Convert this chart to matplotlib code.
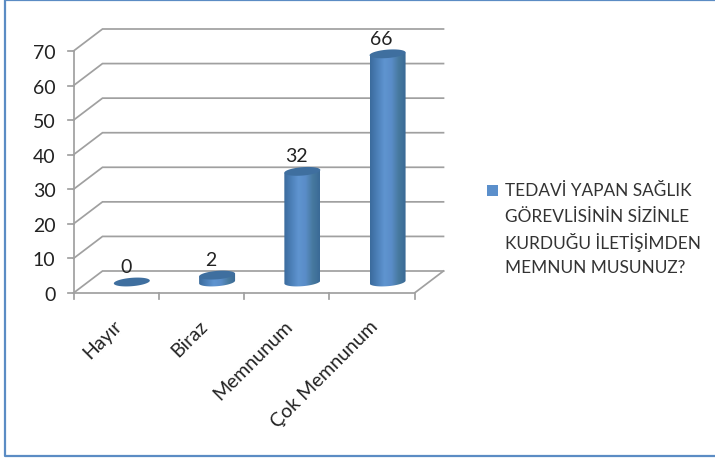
import matplotlib
matplotlib.use('Agg')
import matplotlib.pyplot as plt
import numpy as np
from matplotlib.colors import LinearSegmentedColormap
from matplotlib.patches import PathPatch, Polygon, Rectangle
from matplotlib.path import Path

categories = ['Hayır', 'Biraz', 'Memnunum', 'Çok Memnunum']
values = [0, 2, 32, 66]
y_ticks = [0, 10, 20, 30, 40, 50, 60, 70]
legend_lines = ['TEDAVİ YAPAN SAĞLIK', 'GÖREVLİSİNİN SİZİNLE',
                'KURDUĞU İLETİŞİMDEN', 'MEMNUN MUSUNUZ?']

W, H = 715, 460
plt.rcParams['font.family'] = ['Lato', 'DejaVu Sans']

fig = plt.figure(figsize=(W / 100, H / 100), dpi=100)

# frame around the chart, open on the right
bg = fig.add_axes([0, 0, 1, 1])
bg.set_xlim(0, W)
bg.set_ylim(H, 0)
bg.axis('off')
bg.plot([W, 5, 5, W], [0.7, 0.7, 457.3, 457.3], color='#5b8cc4', lw=1.6)

# plot axes cover the front plane of the floor
left, right, y0, y70 = 73.5, 414.5, 294, 52
ax = fig.add_axes([left / W, 1 - y0 / H, (right - left) / W, (y0 - y70) / H])
ax.set_xlim(0, 4)
ax.set_ylim(0, 70)
ax.axis('off')

px_x = 4 / (right - left)
px_y = 70 / (y0 - y70)
depth_x = 29 * px_x
depth_y = 22 * px_y
grid = '#a0a0a0'

# walls and gridlines
for v in y_ticks:
    ax.plot([0, depth_x, 4 + depth_x], [v, v + depth_y, v + depth_y],
            color=grid, lw=1.25, clip_on=False, solid_joinstyle='miter', zorder=1)
    ax.plot([-6 * px_x, 0], [v, v], color=grid, lw=1.25, clip_on=False, zorder=1)
    ax.text(-18 * px_x, v - 1.5 * px_y, str(v), ha='right', va='center', fontsize=14,
            color='#222222', clip_on=False)
ax.plot([0, 0], [0, 70], color=grid, lw=1.25, clip_on=False, zorder=1)
ax.plot([0, 4, 4 + depth_x], [0, 0, depth_y], color=grid, lw=1.25, clip_on=False, zorder=1)
for i in range(5):
    ax.plot([i, i], [0, -6 * px_y], color=grid, lw=1.25, clip_on=False, zorder=1)

shade = LinearSegmentedColormap.from_list(
    'cyl', ['#3b6b9c', '#4c80b8', '#5f94d0', '#5a8dc8', '#47799f', '#3a6a96'])
gradient = np.linspace(0, 1, 128).reshape(1, -1)
half_w = 18 * px_x
half_h = 4.2 * px_y
tilt = 1.4 * px_y
theta = np.linspace(0, 2 * np.pi, 73)

for i, (cat, val) in enumerate(zip(categories, values)):
    cx = i + 0.5 + depth_x / 2 + 1.2 * px_x
    base = depth_y / 2
    top = base + val
    ex = half_w * np.cos(theta)
    ey = half_h * np.sin(theta) + tilt * np.cos(theta)

    if val > 0:
        # cylinder side: lower half of the base ellipse joined to the top outline
        low = theta > np.pi
        side_x = np.concatenate([cx + ex[low], [cx + half_w, cx - half_w]])
        side_y = np.concatenate([base + ey[low], [top + tilt, top - tilt]])
        body = Polygon(np.column_stack([side_x, side_y]), closed=True,
                       fc='none', ec='none', transform=ax.transData)
        ax.add_patch(body)
        im = ax.imshow(gradient, cmap=shade, aspect='auto', zorder=3,
                       extent=[cx - half_w, cx + half_w, base - 6 * px_y, top + 6 * px_y])
        im.set_clip_path(body)

    ax.add_patch(PathPatch(Path(np.column_stack([cx + ex, top + ey])),
                           fc='#3f6f9f', ec='none', zorder=4, clip_on=False))
    ax.text(cx - 6 * px_x, top + 7 * px_y, str(val), ha='center', va='bottom',
            fontsize=14, color='#222222', clip_on=False, zorder=5)

    # rotated category labels end just below their slot
    ax.text(i + 0.5 + 3 * px_x, -29.5 * px_y, cat, rotation=45, rotation_mode='anchor',
            ha='right', va='center', fontsize=14, color='#222222', clip_on=False)

ax.set_xlim(0, 4)
ax.set_ylim(0, 70)

# legend
bg.add_patch(Rectangle((487, 185.5), 11, 11, fc='#5b8fcb', ec='none'))
for k, line in enumerate(legend_lines):
    bg.text(505, 191.5 + k * 25.4, line, ha='left', va='center', fontsize=12.4, color='#333333')

fig.savefig('out.png', dpi=100)
